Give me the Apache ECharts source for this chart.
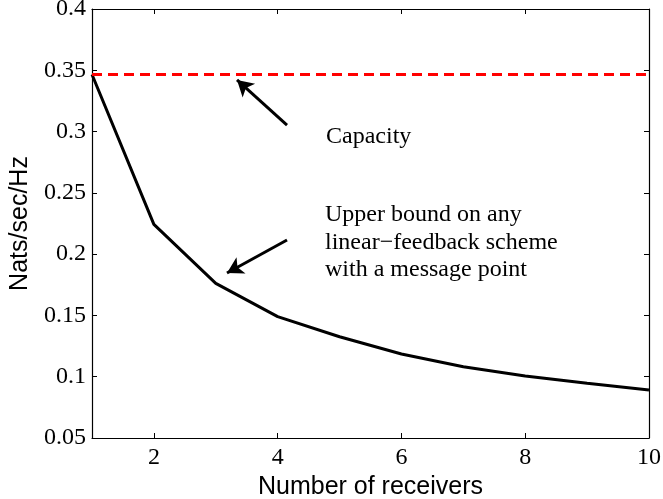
<!DOCTYPE html>
<html>
<head>
<meta charset="utf-8">
<script src="https://cdn.jsdelivr.net/npm/echarts@6/dist/echarts.min.js"></script>
<style>
  html, body { margin: 0; padding: 0; background: #fff; }
  #chart { width: 663px; height: 499px; }
</style>
</head>
<body>
<div id="chart"></div>
<script>
// 数据
const receivers = [1, 2, 3, 4, 5, 6, 7, 8, 9, 10];
const upperBound = [0.3466, 0.2243, 0.1762, 0.149, 0.1326, 0.1185, 0.1082, 0.1006, 0.0946, 0.0892];
const capacity = 0.3466;
const xTicks = [2, 4, 6, 8, 10];

// 箭头 (数据坐标)
const capacityArrow = [[4.151, 0.3053], [3.343, 0.3421]];
const boundArrow = [[4.151, 0.2115], [3.181, 0.1846]];

const serif = 'Liberation Serif';
const sans = 'Liberation Sans';

const chart = echarts.init(document.getElementById('chart'));

const boxAxis = {
  type: 'value',
  axisLine: { show: true, onZero: false, lineStyle: { color: '#000', width: 1.2 } },
  axisTick: { show: true, inside: true, length: 5, lineStyle: { color: '#000', width: 1 } },
  splitLine: { show: false },
};

const option = {
  backgroundColor: '#fff',
  animation: false,
  textStyle: { fontFamily: serif, color: '#000' },
  grid: { left: 92, right: 14, top: 9, bottom: 61, containLabel: false, outerBoundsMode: 'none' },
  xAxis: [
    {
      ...boxAxis,
      min: 1,
      max: 10,
      position: 'bottom',
      name: 'Number of receivers',
      nameLocation: 'middle',
      nameGap: 33,
      nameTextStyle: { fontFamily: sans, fontSize: 25, color: '#000' },
      axisTick: { ...boxAxis.axisTick, customValues: xTicks },
      axisLabel: { customValues: xTicks, fontFamily: serif, fontSize: 24, color: '#000', margin: 8 },
    },
    {
      ...boxAxis,
      min: 1,
      max: 10,
      position: 'top',
      axisTick: { ...boxAxis.axisTick, customValues: xTicks },
      axisLabel: { show: false },
    },
  ],
  yAxis: [
    {
      ...boxAxis,
      min: 0.05,
      max: 0.4,
      interval: 0.05,
      position: 'left',
      name: 'Nats/sec/Hz',
      nameLocation: 'middle',
      nameGap: 53,
      nameTextStyle: { fontFamily: sans, fontSize: 25, color: '#000' },
      axisLabel: {
        fontFamily: serif, fontSize: 24, color: '#000', margin: 6,
        formatter: (v) => String(+v.toFixed(2)),
      },
    },
    {
      ...boxAxis,
      min: 0.05,
      max: 0.4,
      interval: 0.05,
      position: 'right',
      axisLabel: { show: false },
    },
  ],
  series: [
    {
      name: 'Upper bound',
      type: 'line',
      data: receivers.map((x, i) => [x, upperBound[i]]),
      showSymbol: false,
      lineStyle: { color: '#000', width: 3 },
      z: 2,
      markLine: {
        silent: true,
        symbol: ['none', 'arrow'],
        symbolSize: [14, 16],
        label: { show: false },
        lineStyle: { color: '#000', width: 3, type: 'solid' },
        data: [
          [{ coord: capacityArrow[0] }, { coord: capacityArrow[1] }],
          [{ coord: boundArrow[0] }, { coord: boundArrow[1] }],
        ],
      },
    },
    {
      name: 'Capacity',
      type: 'line',
      data: [[receivers[0], capacity], [receivers[receivers.length - 1], capacity]],
      showSymbol: false,
      lineStyle: { color: '#ff0000', width: 3, type: [10, 6] },
      z: 3,
    },
  ],
  graphic: [
    { type: 'text', left: 326, top: 125, style: { text: 'Capacity', font: '24px ' + serif, fill: '#000' } },
    { type: 'text', left: 325, top: 203, style: { text: 'Upper bound on any', font: '24px ' + serif, fill: '#000' } },
    { type: 'text', left: 325, top: 231, style: { text: 'linear\u2212feedback scheme', font: '24px ' + serif, fill: '#000' } },
    { type: 'text', left: 325, top: 258, style: { text: 'with a message point', font: '24px ' + serif, fill: '#000' } },
  ],
};

chart.setOption(option);
</script>
</body>
</html>
